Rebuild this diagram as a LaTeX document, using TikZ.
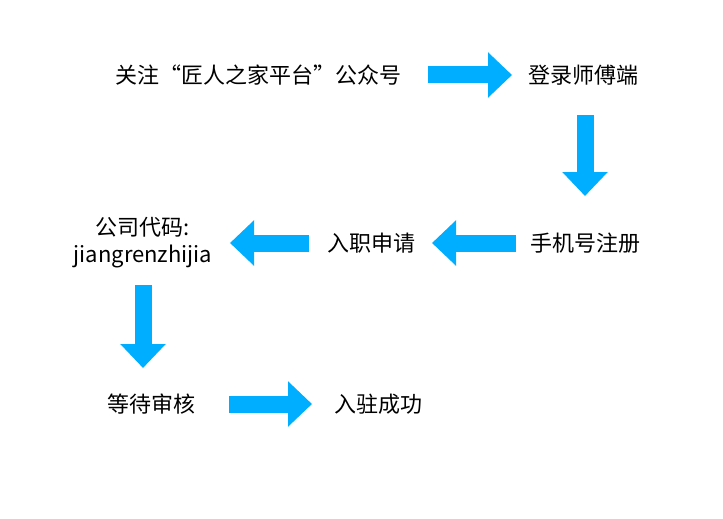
\documentclass[tikz,border=0pt]{standalone}
\usepackage{fontspec}
\setmainfont{Noto Sans CJK SC}
\usetikzlibrary{arrows.meta}
\definecolor{ab}{RGB}{0,174,255}
\begin{document}
\begin{tikzpicture}[x=1pt,y=-1pt,
  lbl/.style={font=\fontsize{22}{27}\selectfont, align=center, inner sep=0pt},
  blk/.style={draw=ab, line width=17pt, -{Triangle[length=24pt,width=44pt]}, ab}]
\useasboundingbox[fill=white] (0,0) rectangle (723,519);
\node[lbl] (t1) at (258,75) {关注“匠人之家平台”公众号};
\node[lbl] (t2) at (583,75) {登录师傅端};
\node[lbl] (t3) at (585,243) {手机号注册};
\node[lbl] (t4) at (371,243) {入职申请};
\node[lbl] (t5) at (143,243) {公司代码:\\jiangrenzhijia};
\node[lbl] (t6) at (151,404) {等待审核};
\node[lbl] (t7) at (378,404) {入驻成功};
\coordinate (a1s) at (428,75); \coordinate (a1e) at (512,75);
\coordinate (a2s) at (585,115); \coordinate (a2e) at (585,196);
\coordinate (a3s) at (516,243); \coordinate (a3e) at (432,243);
\coordinate (a4s) at (309,243); \coordinate (a4e) at (230,243);
\coordinate (a5s) at (143,285); \coordinate (a5e) at (143,368);
\coordinate (a6s) at (229,404); \coordinate (a6e) at (312,404);
\draw[blk] (a1s) -- (a1e);
\draw[blk] (a2s) -- (a2e);
\draw[blk] (a3s) -- (a3e);
\draw[blk] (a4s) -- (a4e);
\draw[blk] (a5s) -- (a5e);
\draw[blk] (a6s) -- (a6e);
\end{tikzpicture}
\end{document}
